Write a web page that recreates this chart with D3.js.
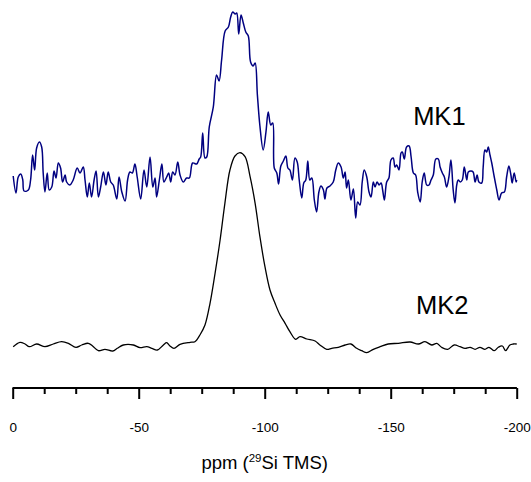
<!DOCTYPE html>
<html>
<head>
<meta charset="utf-8">
<script src="https://cdn.jsdelivr.net/npm/d3@7/dist/d3.min.js"></script>
<style>
  html, body { margin: 0; padding: 0; background: #fff; }
  svg { display: block; }
  text { font-family: Arial, "Liberation Sans", sans-serif; fill: #000; }
</style>
</head>
<body>
<svg id="chart" width="531" height="482"></svg>
<script>
// ---- data (chemical shift in ppm, intensity in arbitrary units) ----
const seriesNames = ["MK1", "MK2"];
const seriesColors = ["#000080", "#000000"];
const seriesOffsets = [165, 0];

const mk1Ppm = [-0.2,-1.3,-2.2,-3.2,-4.0,-4.5,-6.2,-7.1,-7.9,-8.7,-9.5,-10.6,-11.5,-12.1,-12.8,-13.7,-14.5,-15.5,-16.4,-17.2,-18.1,-19.0,-19.8,-20.8,-21.4,-22.7,-24.0,-25.6,-26.7,-28.0,-28.7,-29.6,-30.4,-31.3,-32.3,-33.1,-34.0,-34.9,-36.0,-37.0,-37.9,-38.9,-39.9,-41.3,-42.2,-43.3,-44.6,-45.6,-46.5,-47.5,-48.5,-49.4,-50.8,-52.1,-53.2,-54.5,-55.6,-56.5,-57.1,-58.2,-59.2,-60.0,-61.1,-61.9,-62.7,-63.5,-64.4,-65.5,-66.4,-67.7,-69.0,-70.1,-71.4,-73.0,-74.0,-74.6,-75.4,-76.3,-77.0,-78.0,-79.6,-80.9,-81.9,-82.9,-84.3,-85.6,-86.5,-87.3,-88.3,-88.9,-89.7,-90.6,-91.5,-92.5,-93.5,-94.4,-95.4,-96.2,-97.1,-98.1,-99.4,-100.5,-101.4,-102.4,-103.2,-103.8,-104.8,-105.5,-106.4,-107.4,-108.4,-109.2,-110.0,-111.0,-112.0,-112.9,-113.7,-114.7,-115.5,-116.3,-117.1,-117.9,-118.7,-119.7,-120.6,-121.5,-122.3,-123.3,-123.9,-124.7,-125.9,-127.2,-128.2,-129.2,-130.3,-131.2,-131.9,-132.5,-133.2,-134.2,-135.2,-136.1,-136.9,-137.8,-138.7,-139.5,-140.5,-141.4,-142.2,-143.1,-143.8,-144.6,-145.4,-146.2,-146.8,-147.5,-148.4,-149.3,-150.1,-151.0,-151.7,-152.4,-153.3,-154.1,-154.6,-155.4,-156.3,-157.3,-158.1,-159.0,-159.9,-160.7,-161.7,-162.5,-163.3,-164.3,-165.2,-166.0,-166.9,-167.9,-168.9,-169.6,-170.5,-171.3,-172.2,-173.1,-173.9,-174.8,-175.5,-176.2,-176.8,-177.6,-178.4,-179.2,-180.2,-180.8,-181.9,-182.7,-183.5,-184.3,-185.0,-186.1,-186.7,-187.4,-188.1,-188.7,-189.4,-190.1,-191.1,-192.1,-193.0,-194.0,-195.1,-196.0,-196.9,-197.7,-198.2,-199.0,-199.8,-200.0];
const mk1Int = [4,-13,3,6,0,-11,-10,0,25,10,32,38,33,7,-12,7,-10,-7,9,2,17,12,-2,5,-2,-5,0,12,7,13,0,-17,-3,-17,0,9,-17,-7,8,-5,8,-2,-5,-19,3,-12,-21,0,8,7,16,3,-19,10,-7,23,-7,2,-17,0,16,-2,3,7,-2,8,5,18,5,-2,2,2,17,16,21,23,47,22,23,53,73,105,99,120,149,153,163,168,166,167,146,165,157,148,144,118,114,117,85,54,30,48,68,55,57,12,7,-4,14,19,24,12,10,0,22,18,0,-18,-3,0,19,0,2,-20,-32,-12,-6,-10,-19,-8,-6,-2,10,17,13,2,8,-8,0,-20,-9,-38,-22,-25,-2,10,3,-12,-17,-2,-7,-2,-5,-3,-10,-20,-2,2,20,22,13,15,10,27,28,21,33,34,23,7,5,-12,-22,-2,7,-5,-5,0,5,21,21,13,7,3,-7,3,20,-10,-23,-5,0,-2,0,13,0,8,9,8,-2,5,-2,-3,13,30,28,33,25,17,3,-10,-20,-13,-12,3,14,5,-3,7,-2,0];

const mk2Ppm = [-0.2,-2.9,-4.9,-6.6,-9.5,-12.8,-16.1,-19.4,-22.1,-25.1,-27.4,-30.0,-31.7,-34.0,-36.6,-39.7,-41.5,-43.9,-47.9,-50.5,-53.2,-55.2,-57.4,-59.8,-61.1,-62.4,-64.0,-66.4,-70.4,-72.3,-74.3,-76.3,-78.3,-80.3,-82.3,-84.2,-86.2,-88.2,-90.2,-92.2,-94.2,-96.2,-98.1,-100.1,-102.1,-104.1,-106.1,-108.1,-110.0,-112.3,-114.0,-116.7,-120.0,-121.9,-124.6,-126.6,-129.2,-131.9,-134.2,-136.5,-138.5,-140.5,-143.1,-145.8,-149.0,-153.0,-157.7,-161.0,-163.6,-166.3,-168.3,-170.2,-172.6,-175.2,-177.5,-179.5,-181.5,-183.5,-185.4,-187.4,-189.0,-191.1,-192.7,-194.3,-195.6,-197.3,-198.6,-200.0];
const mk2Int = [-1.7,2.7,1,-1.7,1,-1.7,1,3.3,1.7,-2.3,0,1.7,-1,-5.7,-4.3,-6,-3.3,0,0,-2.7,-1.7,-3.3,-5,0,2.3,-1,-3.3,0.7,2.7,3.3,10,20,41.7,71.7,105,141.7,175,189,192.3,188.3,168.3,141.7,108.3,78.3,55,41.7,30,21.7,13.3,5.7,8.3,6,4,0,-4.3,-3.3,-2.3,0,1,-3.3,-5.7,-7.7,-4.3,-1.7,1,1.7,3,1,3.3,0,1.7,-2.3,-4.3,0,-1.7,-3.3,-2.3,-4.3,-2.3,-4.3,-2.3,-5.7,-2.3,-1,-5.7,0,1,1];

const majorTicks = [0, -50, -100, -150, -200];
const minorStep = 12.5;
const xLabel = "ppm (", xLabelSup = "29", xLabelRest = "Si TMS)";

// ---- layout ----
const svg = d3.select("#chart");
const x = d3.scaleLinear().domain([0, -200]).range([12.7, 516.7]);
const y = d3.scaleLinear().domain([0, 345]).range([345, 0]);
const axisY = 388;

const series = [
  mk1Ppm.map((p, i) => ({ppm: p, v: mk1Int[i] + seriesOffsets[0]})),
  mk2Ppm.map((p, i) => ({ppm: p, v: mk2Int[i] + seriesOffsets[1]}))
];

const line = d3.line()
  .x(d => x(d.ppm))
  .y(d => y(d.v))
  .curve(d3.curveCatmullRom.alpha(0.5));

svg.selectAll("path.spec")
  .data(series)
  .join("path")
  .attr("class", "spec")
  .attr("fill", "none")
  .attr("stroke", (d, i) => seriesColors[i])
  .attr("stroke-width", (d, i) => i === 0 ? 1.5 : 1.3)
  .attr("stroke-linejoin", "round")
  .attr("d", line);

// series labels
const labelPpm = [-158.9, -160.0];
const labelBase = [125, 314];
svg.selectAll("text.series")
  .data(seriesNames)
  .join("text")
  .attr("class", "series")
  .attr("x", (d, i) => x(labelPpm[i]))
  .attr("y", (d, i) => labelBase[i])
  .attr("font-size", 25.5)
  .text(d => d);

// ---- axis ----
const minorTicks = d3.range(0, -200.01, -minorStep).filter(v => v % 50 !== 0);
const gMinor = svg.append("g").attr("transform", `translate(0,${axisY})`)
  .call(d3.axisBottom(x).tickValues(minorTicks).tickSize(6).tickFormat(""));
const gMajor = svg.append("g").attr("transform", `translate(0,${axisY})`)
  .call(d3.axisBottom(x).tickValues(majorTicks).tickSize(11).tickPadding(23.5)
    .tickFormat(d3.format("d")));
[gMinor, gMajor].forEach(g => {
  g.select(".domain").attr("stroke", "#000").attr("stroke-width", 2)
    .attr("d", `M${x(0)},0H${x(-200)}`);
  g.selectAll(".tick line").attr("stroke", "#000").attr("stroke-width", 2);
});
gMajor.selectAll(".tick text")
  .attr("font-family", "Arial, 'Liberation Sans', sans-serif")
  .attr("font-size", 13.5)
  .attr("fill", "#000")
  .text(d => d === 0 ? "0" : "-" + Math.abs(d));

const title = svg.append("text")
  .attr("x", (x(0) + x(-200)) / 2)
  .attr("y", 469)
  .attr("text-anchor", "middle")
  .attr("font-size", 18.5);
title.append("tspan").text(xLabel);
title.append("tspan").attr("font-size", 11.5).attr("dy", -7).text(xLabelSup);
title.append("tspan").attr("dy", 7).text(xLabelRest);
</script>
</body>
</html>
